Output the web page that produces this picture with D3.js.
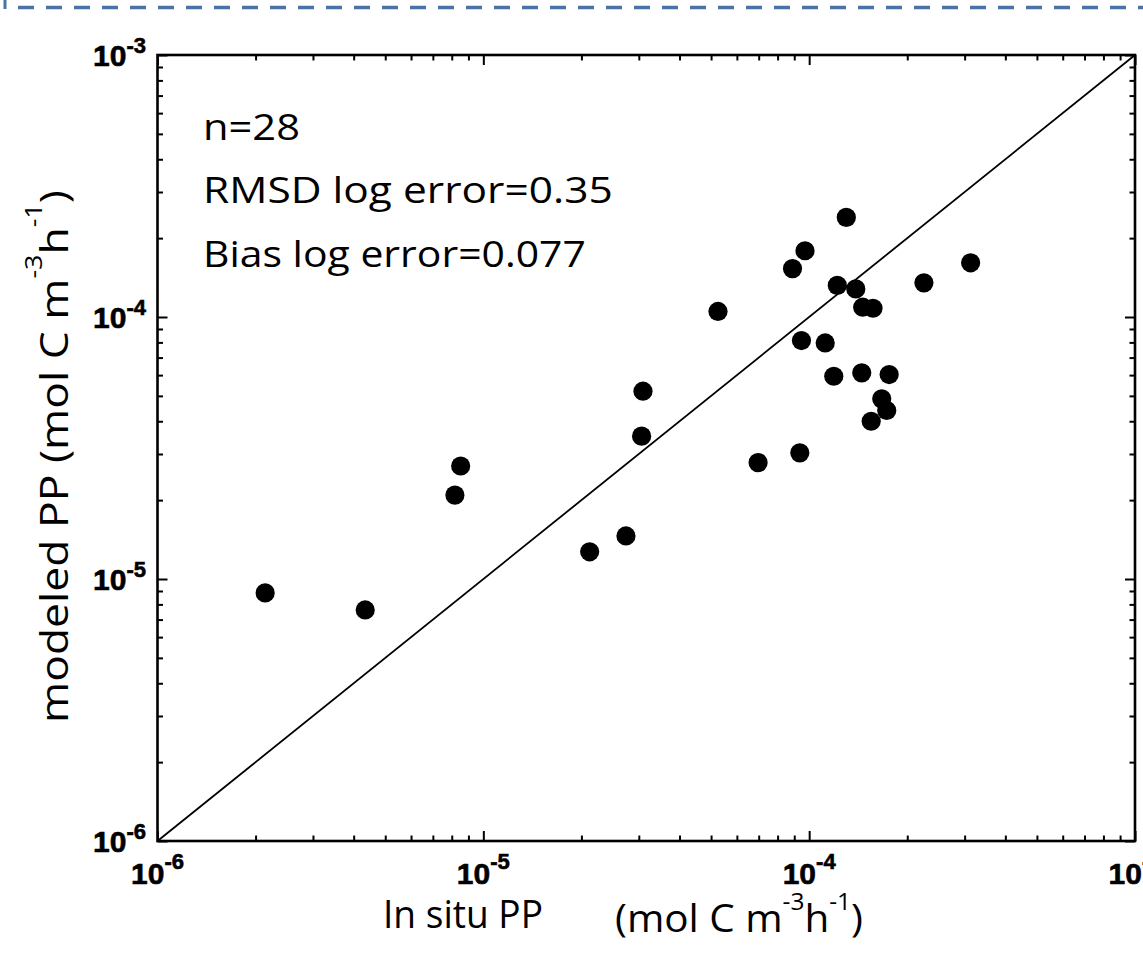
<!DOCTYPE html>
<html><head><meta charset="utf-8">
<script src="https://cdn.jsdelivr.net/npm/d3@7"></script>
<style>body{margin:0;background:#fff;} svg{display:block;}</style>
</head><body>
<svg id="chart" width="1143" height="953"></svg>
<script>
// ---- data ----
const insituPP  = [2.14e-6, 4.34e-6, 8.18e-6, 8.52e-6, 2.12e-5, 2.74e-5, 3.06e-5, 3.09e-5,
                   5.25e-5, 6.97e-5, 8.89e-5, 9.71e-5, 9.47e-5, 9.36e-5, 1.30e-4, 1.22e-4,
                   1.12e-4, 1.19e-4, 1.39e-4, 1.46e-4, 1.57e-4, 1.45e-4, 1.76e-4, 1.67e-4,
                   1.73e-4, 1.55e-4, 2.25e-4, 3.13e-4];
const modeledPP = [8.85e-6, 7.62e-6, 2.09e-5, 2.70e-5, 1.27e-5, 1.46e-5, 3.51e-5, 5.21e-5,
                   1.05e-4, 2.78e-5, 1.53e-4, 1.79e-4, 8.13e-5, 3.03e-5, 2.40e-4, 1.32e-4,
                   7.96e-5, 5.94e-5, 1.28e-4, 1.09e-4, 1.08e-4, 6.12e-5, 6.03e-5, 4.87e-5,
                   4.40e-5, 4.00e-5, 1.35e-4, 1.61e-4];
const majorTicks = [1e-6, 1e-5, 1e-4, 1e-3];
const tickExponents = ["-6", "-5", "-4", "-3"];
const statsLines = ["n=28", "RMSD log error=0.35", "Bias log error=0.077"];
const oneToOne = [1e-6, 1e-3];

const svg = d3.select("#chart");
const L = 157.5, R = 1135, T = 55, B = 841;
const x = d3.scaleLog().domain([1e-6, 1e-3]).range([L, R]);
const y = d3.scaleLog().domain([1e-6, 1e-3]).range([B, T]);

const minorTicks = [];
[1e-6, 1e-5, 1e-4].forEach(d => { for (let k = 2; k <= 9; k++) minorTicks.push(d * k); });

// dashed decoration at top
svg.append("line").attr("x1", 5).attr("x2", 5).attr("y1", 0).attr("y2", 9)
  .attr("stroke", "#4a73a3").attr("stroke-width", 3);
svg.append("line").attr("x1", 18).attr("x2", 1143).attr("y1", 7.5).attr("y2", 7.5)
  .attr("stroke", "#4a73a3").attr("stroke-width", 3.5).attr("stroke-dasharray", "16,12");

// 1:1 line
svg.append("line")
  .attr("x1", x(oneToOne[0])).attr("y1", y(oneToOne[0]))
  .attr("x2", x(oneToOne[1])).attr("y2", y(oneToOne[1]))
  .attr("stroke", "#000").attr("stroke-width", 1.8);

// points
svg.append("g").selectAll("circle").data(insituPP).join("circle")
  .attr("cx", d => x(d)).attr("cy", (d, i) => y(modeledPP[i]))
  .attr("r", 9.6).attr("fill", "#000");

// ticks (inward) on all four sides
function addAxis(axisGen, tx, ty, vals, size) {
  const g = svg.append("g").attr("transform", `translate(${tx},${ty})`)
    .call(axisGen.tickValues(vals).tickSize(-size).tickFormat(""));
  g.select(".domain").remove();
  g.selectAll(".tick line").attr("stroke", "#000").attr("stroke-width", 2);
}
[[majorTicks, 10], [minorTicks, 5.5]].forEach(([vals, s]) => {
  addAxis(d3.axisBottom(x), 0, B, vals, s);
  addAxis(d3.axisTop(x), 0, T, vals, s);
  addAxis(d3.axisLeft(y), L, 0, vals, s);
  addAxis(d3.axisRight(y), R, 0, vals, s);
});

// frame
svg.append("rect").attr("x", L).attr("y", T).attr("width", R - L).attr("height", B - T)
  .attr("fill", "none").attr("stroke", "#000").attr("stroke-width", 2.6);

// tick labels
const tickFont = "'Liberation Sans', Arial, sans-serif";
majorTicks.forEach((v, i) => {
  const tx = svg.append("text").attr("x", x(v)).attr("y", 884)
    .attr("text-anchor", "middle").attr("font-family", tickFont)
    .attr("font-weight", "bold").attr("font-size", 30).attr("fill", "#000")
    .attr("stroke", "#000").attr("stroke-width", 0.6);
  tx.append("tspan").text("10");
  tx.append("tspan").attr("font-size", 22).attr("dy", -15).text(tickExponents[i]);

  const ty = svg.append("text").attr("x", 146).attr("y", y(v) + 11)
    .attr("text-anchor", "end").attr("font-family", tickFont)
    .attr("font-weight", "bold").attr("font-size", 30).attr("fill", "#000")
    .attr("stroke", "#000").attr("stroke-width", 0.6);
  ty.append("tspan").text("10");
  ty.append("tspan").attr("font-size", 22).attr("dy", -13).text(tickExponents[i]);
});

// helper: place text and stretch horizontally to a target ink width
const textFont = "'Open Sans', 'Noto Sans', sans-serif";
function fitted(x0, y0, target, build, size, rotate) {
  const g = svg.append("g");
  const t = g.append("text").attr("x", 0).attr("y", 0)
    .attr("font-family", textFont).attr("font-size", size).attr("fill", "#000");
  build(t);
  const w = t.node().getBBox().width;
  const sx = target / w;
  g.attr("transform", `translate(${x0},${y0})` + (rotate ? " rotate(-90)" : "") + ` scale(${sx},1)`);
  return g;
}

// stats annotation
const statsY = [140, 203, 266.5];
const statsW = [97, 410, 383];
statsLines.forEach((s, i) => {
  fitted(203, statsY[i], statsW[i], t => t.text(s), 37, false);
});

// unit builder
function units(t, supDy) {
  t.append("tspan").text("(mol C m");
  t.append("tspan").attr("font-size", 23).attr("dy", supDy).text("-3");
  t.append("tspan").attr("dy", -supDy).text("h");
  t.append("tspan").attr("font-size", 23).attr("dy", supDy).text("-1");
  t.append("tspan").attr("dy", -supDy).text(")");
}

// x title
fitted(383, 928, 160, t => t.text("In situ  PP"), 38, false);
fitted(615, 932, 248, t => units(t, -22), 38, false);

// y title
fitted(68, 723, 533, t => {
  t.append("tspan").text("modeled  PP  ");
  units(t, -26);
}, 38, true);
</script>
</body></html>
